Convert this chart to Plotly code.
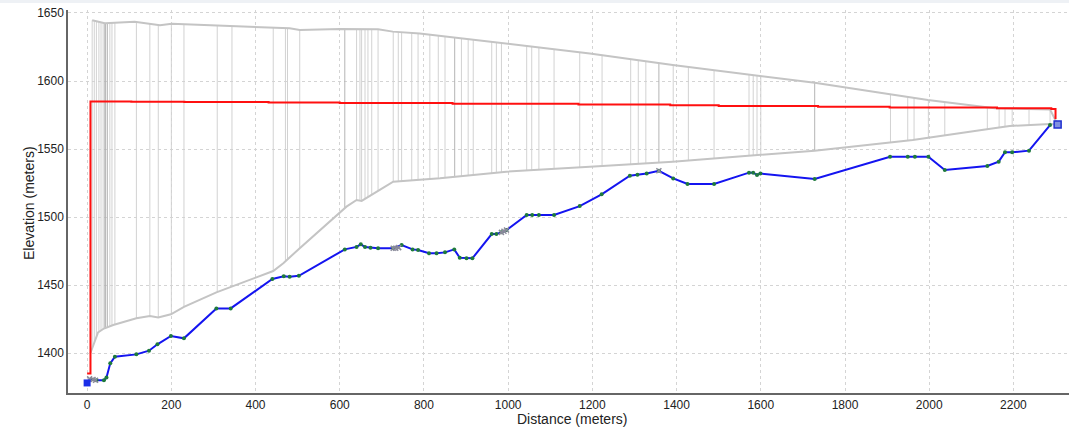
import numpy as np
import plotly.graph_objects as go

# Ground profile (blue line)
ground_x = [0, 10, 22, 40, 46, 55, 66, 117, 147, 167, 199, 230, 307, 341, 440, 467, 481, 503,
            612, 640, 650, 660, 673, 691, 727, 747, 773, 786, 812, 830, 850, 872, 885, 901, 915,
            961, 972, 984, 996, 1044, 1057, 1073, 1109, 1170, 1222, 1289, 1307, 1329, 1358, 1392,
            1426, 1489, 1572, 1582, 1591, 1599, 1728, 1907, 1949, 1966, 1998, 2037, 2138, 2165,
            2180, 2197, 2237, 2287, 2305]
ground_y = [1378, 1380.5, 1380, 1380, 1382, 1392.4, 1397.3, 1399, 1401.7, 1406.4, 1412.5, 1410.8,
            1432.8, 1432.8, 1454.4, 1456.4, 1456, 1456.8, 1476.2, 1478, 1479.9, 1478, 1477.4, 1477,
            1477, 1479.4, 1476.2, 1475.7, 1473.3, 1473.3, 1474, 1476.2, 1470, 1469.6, 1469.6,
            1487.5, 1487.5, 1488.7, 1490.4, 1501.5, 1501.5, 1501.5, 1501.5, 1508, 1516.7, 1530.4,
            1531, 1532, 1534, 1528.4, 1524.3, 1524.3, 1532.6, 1532.6, 1530.9, 1532, 1528, 1544.3,
            1544.3, 1544.3, 1544.3, 1534.6, 1537.5, 1540.7, 1547.6, 1547.6, 1548.8, 1567.6, 1568]

# Water surface (red line)
water_x = [0, 8, 8, 105, 231, 431, 600, 868, 1167, 1385, 1500, 1736, 1906, 2161, 2290, 2300]
water_y = [1385, 1385, 1585, 1584.8, 1584.5, 1584.2, 1583.9, 1583.3, 1582.7, 1582.2, 1581.6,
           1581.0, 1580.5, 1579.9, 1579.4, 1572]

# Upper envelope of cross sections (grey)
upper_x = [12, 42, 113, 173, 201, 339, 481, 505, 600, 691, 726, 790, 996, 1194, 1391, 1728,
           1907, 1997, 2156, 2287, 2305]
upper_y = [1644.6, 1642.5, 1643.5, 1641, 1642, 1640.5, 1638.7, 1637.5, 1638.2, 1638, 1636.3,
           1635, 1627.7, 1620.3, 1611.8, 1598.7, 1590.2, 1586, 1580, 1579, 1568]

# Lower envelope of cross sections (grey)
lower_x = [8, 26, 40, 62, 117, 149, 169, 199, 230, 307, 442, 466, 503, 616, 640, 652, 695, 727,
           838, 996, 1194, 1391, 1728, 1961, 2137, 2191, 2287, 2305]
lower_y = [1400, 1415.2, 1418, 1420.6, 1425.5, 1427.2, 1426.2, 1428.5, 1434, 1444.6, 1460.3,
           1466, 1476.5, 1507.6, 1512.5, 1511.8, 1519.9, 1526, 1528.5, 1533.3, 1537, 1540.7,
           1548.8, 1556.6, 1564.5, 1566.9, 1568.4, 1568]

# Cross-section stations (vertical grey lines)
station_x = [12, 17, 22, 28, 33, 38, 42, 44, 48, 54, 59, 66, 117, 149, 169, 200, 230, 309, 344,
             442, 471, 476, 505, 612, 640, 648, 652, 660, 667, 676, 691, 727, 739, 747, 771, 786,
             814, 834, 850, 873, 889, 905, 917, 961, 972, 984, 1044, 1056, 1073, 1109, 1170,
             1223, 1291, 1309, 1327, 1358, 1392, 1428, 1489, 1572, 1582, 1591, 1600, 1728, 1908,
             1949, 1964, 1998, 2037, 2138, 2166, 2180, 2197, 2237, 2287]
station_dark = [42, 44, 48, 612, 873, 1358, 1728]

# Grey sample markers
grey_x = [6, 14, 20, 727, 733, 740, 984, 990, 996, 1358]
grey_y = [1381, 1380.5, 1380, 1477, 1477, 1477.5, 1488.7, 1489.5, 1490.4, 1534]

x_ticks = [0, 200, 400, 600, 800, 1000, 1200, 1400, 1600, 1800, 2000, 2200]
y_ticks = [1400, 1450, 1500, 1550, 1600, 1650]

fig = go.Figure()

ux = np.array(upper_x, float); uy = np.array(upper_y, float)
lx = np.array(lower_x, float); ly = np.array(lower_y, float)

def vert_trace(stations, color):
    xs, ys = [], []
    for s in stations:
        xs += [s, s, None]
        ys += [float(np.interp(s, lx, ly)), float(np.interp(s, ux, uy)), None]
    return go.Scatter(x=xs, y=ys, mode="lines", line=dict(color=color, width=1),
                      hoverinfo="skip", showlegend=False)

light = [s for s in station_x if s not in station_dark]
fig.add_trace(vert_trace(light, "#d2d2d2"))
fig.add_trace(vert_trace(station_dark, "#b4b4b4"))

fig.add_trace(go.Scatter(x=upper_x, y=upper_y, mode="lines",
                         line=dict(color="#c4c4c4", width=2), showlegend=False))
fig.add_trace(go.Scatter(x=lower_x, y=lower_y, mode="lines",
                         line=dict(color="#c4c4c4", width=2), showlegend=False))

fig.add_trace(go.Scatter(x=water_x, y=water_y, mode="lines",
                         line=dict(color="#ff1010", width=2, shape="hv"), showlegend=False))

fig.add_trace(go.Scatter(x=ground_x[1:-1], y=ground_y[1:-1], mode="lines+markers",
                         line=dict(color="#1414f0", width=2),
                         marker=dict(color="#1e7a3c", size=4), showlegend=False))
fig.add_trace(go.Scatter(x=[ground_x[0], ground_x[1]], y=[ground_y[0], ground_y[1]], mode="lines",
                         line=dict(color="#1414f0", width=2), showlegend=False))
fig.add_trace(go.Scatter(x=grey_x, y=grey_y, mode="markers",
                         marker=dict(color="#8a8a9a", size=5, symbol="x-thin",
                                     line=dict(color="#8a8a9a", width=1.5)), showlegend=False))
fig.add_trace(go.Scatter(x=[ground_x[0]], y=[ground_y[0]], mode="markers",
                         marker=dict(color="#1a2ee8", size=7, symbol="square"), showlegend=False))
fig.add_trace(go.Scatter(x=[ground_x[-1]], y=[ground_y[-1]], mode="markers",
                         marker=dict(color="#8090e0", size=7, symbol="square",
                                     line=dict(color="#2030d0", width=1.5)), showlegend=False))

PLOT_H = 383
axis_font = dict(family="Liberation Sans, Arial, sans-serif", size=12, color="#222222")
fig.update_layout(
    width=1069, height=429,
    margin=dict(l=68, r=0, t=10, b=36, autoexpand=False),
    paper_bgcolor="white", plot_bgcolor="white",
    font=axis_font,
    xaxis=dict(range=[-45.4, 2332], tickvals=x_ticks, showgrid=True, gridcolor="#d4d4d4",
               griddash="dot", gridwidth=1, showline=True, linecolor="#666666", linewidth=1.5,
               ticks="", zeroline=False, automargin=False, tickfont=dict(size=12)),
    yaxis=dict(range=[1370.6, 1652.2], tickvals=y_ticks, showgrid=True, gridcolor="#d4d4d4",
               griddash="dot", gridwidth=1, showline=True, linecolor="#666666", linewidth=1.5,
               ticks="", zeroline=False, automargin=False, tickfont=dict(size=12)),
    annotations=[
        dict(text="Distance (meters)", xref="paper", yref="paper", x=(572 - 68) / 1001,
             y=-(419 - 393) / PLOT_H, xanchor="center", yanchor="middle", showarrow=False,
             font=dict(size=14, color="#222222")),
        dict(text="Elevation (meters)", xref="paper", yref="paper", x=-(68 - 29) / 1001,
             y=(393 - 203) / PLOT_H, xanchor="center", yanchor="middle", showarrow=False,
             textangle=-90, font=dict(size=14, color="#222222")),
    ],
    shapes=[dict(type="rect", xref="paper", yref="paper", x0=-0.08, x1=1.01,
                 y0=1 + 7 / PLOT_H, y1=1 + 11 / PLOT_H, fillcolor="#eef1f5", line=dict(width=0),
                 layer="below")],
)

fig.write_html("out.html", config={"displayModeBar": False},
               post_script="document.body.style.margin='0';document.body.style.padding='0';")
